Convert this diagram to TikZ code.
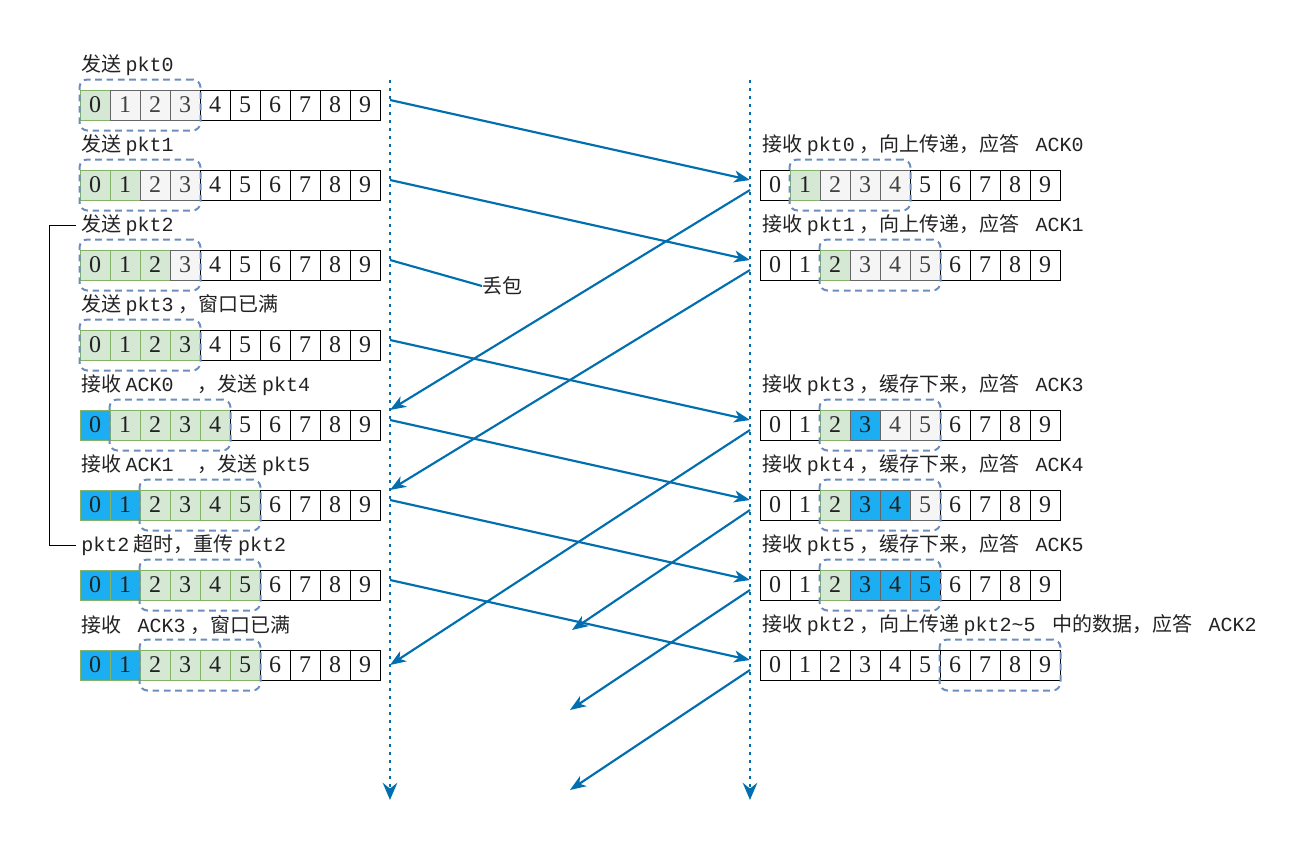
\documentclass[tikz,border=0pt]{standalone}
\usepackage{fontspec}
\setmainfont{Liberation Serif}
\setmonofont{Liberation Mono}
\newfontfamily\cjk{Noto Sans CJK SC}
\usetikzlibrary{arrows.meta,positioning,fit}
\definecolor{fg}{HTML}{222222}
\definecolor{arr}{HTML}{006EAF}
\definecolor{winc}{HTML}{6C8EBF}
\definecolor{gfill}{HTML}{D5E8D4}
\definecolor{gdraw}{HTML}{82B366}
\definecolor{sfill}{HTML}{F5F5F5}
\definecolor{sdraw}{HTML}{666666}
\definecolor{bfill}{HTML}{1BAEF2}
\newcommand{\pk}[1]{\texttt{#1}}
% eine Zeile aus 10 Feldern: Name, x, y, Feldarten
\newcommand{\slots}[4]{%
  \foreach \k [count=\i from 0] in {#4}
    \node[c-\k] (#1-\i) at ({#2+30*\i},#3) {\i};}
\tikzset{
  every picture/.style={x=0.75pt, y=-0.75pt, fg},
  % Felder
  cell/.style={draw=black, minimum size=22.5pt, inner sep=0pt, line width=0.75pt,
    font=\fontsize{18}{20}\selectfont},
  c-w/.style={cell, fill=white},
  c-g/.style={cell, fill=gfill, draw=gdraw},
  c-s/.style={cell, fill=sfill, draw=sdraw, text=fg!85},
  c-a/.style={cell, fill=bfill, draw=gdraw},
  c-b/.style={cell, fill=bfill, draw=sdraw},
  % Fenster
  win/.style={draw=winc, line width=1.5pt, dash pattern=on 5pt off 3.5pt,
    rounded corners=6pt, inner xsep=0pt, inner ysep=7.5pt},
  % Beschriftung
  lbl/.style={anchor=west, inner sep=0pt, font=\fontsize{15}{18}\selectfont},
  % Zeitachsen und Pakete
  timeline/.style={arr, line width=2.2pt, dash pattern=on 2.2pt off 3.8pt},
  tltip/.style={arr, line width=1.5pt, -{Stealth[length=13pt,width=11pt,inset=4.5pt]}},
  msg/.style={arr, line width=1.6pt, -{Stealth[length=12pt,width=9pt,inset=3.5pt]}},
  lostmsg/.style={arr, line width=1.6pt},
  bracket/.style={black, line width=0.75pt},
}
\begin{document}
\begin{tikzpicture}
  \useasboundingbox (0,0) rectangle (1311,850);
  % Sender
  \slots{L0}{95}{105}{g,s,s,s,w,w,w,w,w,w}
  \slots{L1}{95}{185}{g,g,s,s,w,w,w,w,w,w}
  \slots{L2}{95}{265}{g,g,g,s,w,w,w,w,w,w}
  \slots{L3}{95}{345}{g,g,g,g,w,w,w,w,w,w}
  \slots{L4}{95}{425}{a,g,g,g,g,w,w,w,w,w}
  \slots{L5}{95}{505}{a,a,g,g,g,g,w,w,w,w}
  \slots{L6}{95}{585}{a,a,g,g,g,g,w,w,w,w}
  \slots{L7}{95}{665}{a,a,g,g,g,g,w,w,w,w}
  \node[win, fit=(L0-0)(L0-3)] (wL0) {};
  \node[win, fit=(L1-0)(L1-3)] (wL1) {};
  \node[win, fit=(L2-0)(L2-3)] (wL2) {};
  \node[win, fit=(L3-0)(L3-3)] (wL3) {};
  \node[win, fit=(L4-1)(L4-4)] (wL4) {};
  \node[win, fit=(L5-2)(L5-5)] (wL5) {};
  \node[win, fit=(L6-2)(L6-5)] (wL6) {};
  \node[win, fit=(L7-2)(L7-5)] (wL7) {};
  \node[lbl] (tL0) at (81,65) {\cjk 发送 \pk{pkt0}};
  \node[lbl] (tL1) at (81,145) {\cjk 发送 \pk{pkt1}};
  \node[lbl] (tL2) at (81,225) {\cjk 发送 \pk{pkt2}};
  \node[lbl] (tL3) at (81,305) {\cjk 发送 \pk{pkt3} ，窗口已满};
  \node[lbl] (tL4) at (81,385) {\cjk 接收 \pk{ACK0~~}，发送 \pk{pkt4}};
  \node[lbl] (tL5) at (81,465) {\cjk 接收 \pk{ACK1~~}，发送 \pk{pkt5}};
  \node[lbl] (tL6) at (81,545) {\cjk \pk{pkt2} 超时，重传 \pk{pkt2}};
  \node[lbl] (tL7) at (81,625) {\cjk 接收 \pk{~ACK3} ，窗口已满};
  \draw[bracket] ([xshift=-4pt]tL2.west) -- ++(-26,0) |- ([xshift=-4pt]tL6.west);
  % Empfaenger
  \slots{R0}{775}{185}{w,g,s,s,s,w,w,w,w,w}
  \slots{R1}{775}{265}{w,w,g,s,s,s,w,w,w,w}
  \slots{R3}{775}{425}{w,w,g,b,s,s,w,w,w,w}
  \slots{R4}{775}{505}{w,w,g,b,b,s,w,w,w,w}
  \slots{R5}{775}{585}{w,w,g,b,b,b,w,w,w,w}
  \slots{R2}{775}{665}{w,w,w,w,w,w,w,w,w,w}
  \node[win, fit=(R0-1)(R0-4)] (wR0) {};
  \node[win, fit=(R1-2)(R1-5)] (wR1) {};
  \node[win, fit=(R3-2)(R3-5)] (wR3) {};
  \node[win, fit=(R4-2)(R4-5)] (wR4) {};
  \node[win, fit=(R5-2)(R5-5)] (wR5) {};
  \node[win, fit=(R2-6)(R2-9)] (wR2) {};
  \node[lbl] (tR0) at (762,145) {\cjk 接收 \pk{pkt0} ，向上传递，应答 \pk{~ACK0}};
  \node[lbl] (tR1) at (762,225) {\cjk 接收 \pk{pkt1} ，向上传递，应答 \pk{~ACK1}};
  \node[lbl] (tR3) at (762,385) {\cjk 接收 \pk{pkt3} ，缓存下来，应答 \pk{~ACK3}};
  \node[lbl] (tR4) at (762,465) {\cjk 接收 \pk{pkt4} ，缓存下来，应答 \pk{~ACK4}};
  \node[lbl] (tR5) at (762,545) {\cjk 接收 \pk{pkt5} ，缓存下来，应答 \pk{~ACK5}};
  \node[lbl] (tR2) at (762,625) {\cjk 接收 \pk{pkt2} ，向上传递 \pk{pkt2\textasciitilde 5~} 中的数据，应答 \pk{~ACK2}};
  % Zeitachsen
  \coordinate (ts) at (390,80);  \coordinate (tm) at (390,788);  \coordinate (te) at (390,800);
  \coordinate (rs) at (750,80);  \coordinate (rm) at (750,788);  \coordinate (re) at (750,800);
  \draw[timeline] (ts) -- (tm);
  \draw[timeline] (rs) -- (rm);
  \draw[tltip] (tm) -- (te);
  \draw[tltip] (rm) -- (re);
  % Punkte auf den Achsen
  \foreach \n/\y in {p0/100, p1/180, p2/260, p3/340, p4/420, p5/500, p2r/580,
      a0/410, a1/490, a3/665}
    \coordinate (L\n) at (390,\y);
  \foreach \n/\y in {p0/180, p1/260, p3/420, p4/500, p5/580, p2r/660,
      a0/190, a1/270, a3/430, a4/510, a5/590, a2/670}
    \coordinate (R\n) at (750,\y);
  \coordinate (xa4) at (572,630);
  \coordinate (xa5) at (570,710);
  \coordinate (xa2) at (570,790);
  % Pakete
  \foreach \n in {p0,p1,p3,p4,p5,p2r}
    \draw[msg] (L\n) -- (R\n);
  \node[lbl] (lost) at (482,286) {\cjk 丢包};
  \draw[lostmsg] (Lp2) -- (lost.west);
  % ACKs
  \foreach \n in {a0,a1,a3}
    \draw[msg] (R\n) -- (L\n);
  \foreach \n in {a4,a5,a2}
    \draw[msg] (R\n) -- (x\n);
\end{tikzpicture}
\end{document}
